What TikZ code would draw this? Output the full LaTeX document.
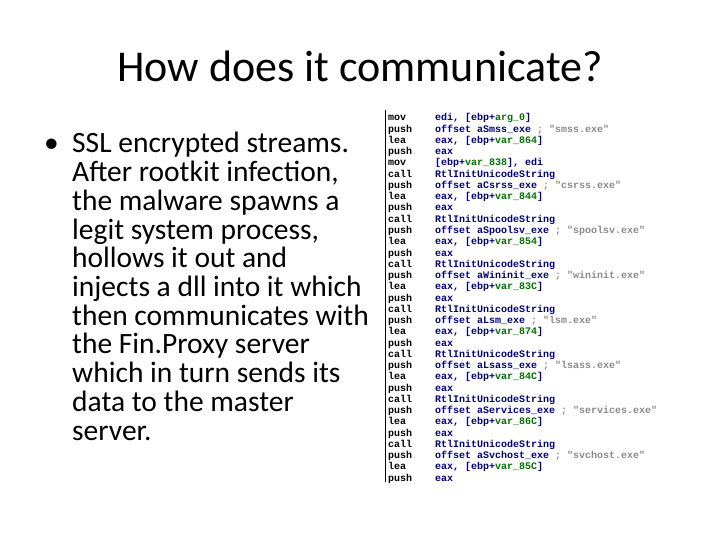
\documentclass[tikz,border=0pt]{standalone}
\usepackage{fontspec}
\setmainfont{Carlito}
\newfontfamily\codefont{Liberation Mono}
\definecolor{navy}{HTML}{000080}
\definecolor{vgreen}{HTML}{007000}
\definecolor{cgray}{HTML}{8A8A8A}
\newcommand{\V}[1]{\textcolor{vgreen}{#1}}
\newcommand{\C}[1]{\textcolor{cgray}{#1}}
\begin{document}
\begin{tikzpicture}[x=1pt,y=-1pt,
  body/.style={anchor=base west,inner sep=0pt,font=\fontsize{29.5}{28}\selectfont},
  mn/.style={anchor=base west,inner sep=0pt,font=\codefont\bfseries\fontsize{10}{11}\selectfont,text=black},
  op/.style={anchor=base west,inner sep=0pt,font=\codefont\bfseries\fontsize{10}{11}\selectfont,text=navy}]
\useasboundingbox (0,0) rectangle (720,540);
\node[anchor=base,inner sep=0pt,font=\fontsize{44}{48}\selectfont] (title) at (360,82) {How does it communicate?};
\node[body] (bul) at (44,153) {•};
\foreach \t [count=\i] in {SSL encrypted streams.,{After rootkit infection,},the malware spawns a,{legit system process,},hollows it out and,injects a dll into it which,then communicates with,the Fin.Proxy server,which in turn sends its,data to the master,server.}
  \node[body] (l\i) at (72,{153+28.7*(\i-1)}) {\t};
\draw[black,line width=0.8pt] (385,110) coordinate (ta) -- (385,482) coordinate (tb);
\foreach \m/\o [count=\i] in {
 mov/{edi, [ebp+\V{arg\_0}]},
 push/{offset aSmss\_exe \C{; "smss.exe"}},
 lea/{eax, [ebp+\V{var\_864}]},
 push/eax,
 mov/{[ebp+\V{var\_838}], edi},
 call/RtlInitUnicodeString,
 push/{offset aCsrss\_exe \C{; "csrss.exe"}},
 lea/{eax, [ebp+\V{var\_844}]},
 push/eax,
 call/RtlInitUnicodeString,
 push/{offset aSpoolsv\_exe \C{; "spoolsv.exe"}},
 lea/{eax, [ebp+\V{var\_854}]},
 push/eax,
 call/RtlInitUnicodeString,
 push/{offset aWininit\_exe \C{; "wininit.exe"}},
 lea/{eax, [ebp+\V{var\_83C}]},
 push/eax,
 call/RtlInitUnicodeString,
 push/{offset aLsm\_exe \C{; "lsm.exe"}},
 lea/{eax, [ebp+\V{var\_874}]},
 push/eax,
 call/RtlInitUnicodeString,
 push/{offset aLsass\_exe \C{; "lsass.exe"}},
 lea/{eax, [ebp+\V{var\_84C}]},
 push/eax,
 call/RtlInitUnicodeString,
 push/{offset aServices\_exe \C{; "services.exe"}},
 lea/{eax, [ebp+\V{var\_86C}]},
 push/eax,
 call/RtlInitUnicodeString,
 push/{offset aSvchost\_exe \C{; "svchost.exe"}},
 lea/{eax, [ebp+\V{var\_85C}]},
 push/eax}
{
 \node[mn] (m\i) at (388,{121+11.25*(\i-1)}) {\m};
 \node[op] (o\i) at (435,{121+11.25*(\i-1)}) {\o};
}
\end{tikzpicture}
\end{document}
